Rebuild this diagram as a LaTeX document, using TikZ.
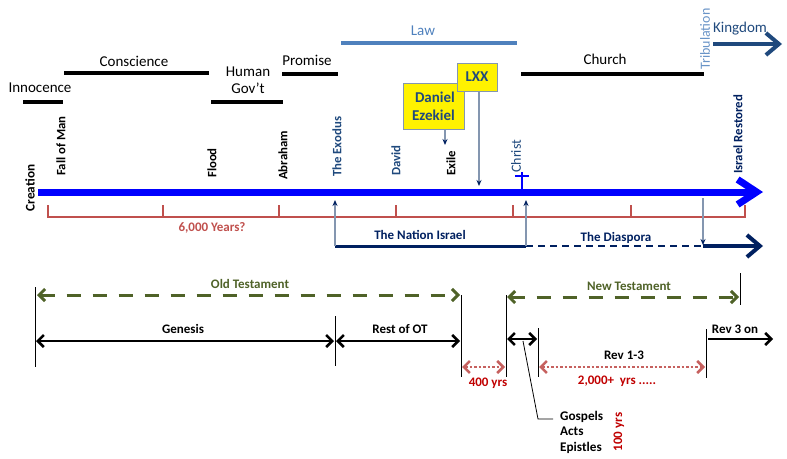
\documentclass[tikz,border=0pt]{standalone}
\usepackage{fontspec}
\setmainfont{Carlito}
\usetikzlibrary{arrows.meta}
\definecolor{mainblue}{HTML}{0000FF}
\definecolor{lawblue}{HTML}{4F81BD}
\definecolor{darkblue}{HTML}{1F497D}
\definecolor{navy}{HTML}{002060}
\definecolor{bracketred}{HTML}{C0504D}
\definecolor{darkred}{HTML}{C00000}
\definecolor{olive}{HTML}{4F6228}
\definecolor{greyblue}{HTML}{8496B0}
\begin{document}
\begin{tikzpicture}[x=1pt, y=-1pt,
  bar/.style={line width=4pt},
  lbl/.style={font=\fontsize{15}{17}\selectfont, inner sep=0pt},
  blbl/.style={font=\bfseries\fontsize{13}{15}\selectfont, inner sep=0pt},
  evt/.style={font=\bfseries\fontsize{12.8}{14}\selectfont, rotate=90, anchor=west, inner sep=0pt},
  note/.style={draw=greyblue, fill=yellow, text=darkblue, line width=1pt,
    font=\bfseries\fontsize{15}{18}\selectfont, inner sep=2pt},
  pointer/.style={draw=greyblue, line width=1.2pt, -{Stealth[length=6pt,width=5pt,color=navy]}},
  span/.style={line width=2.5pt, {Straight Barb[length=6pt,width=12pt]}-{Straight Barb[length=6pt,width=12pt]}},
  testament/.style={olive, line width=3pt, dash pattern=on 14pt off 12pt,
    {Straight Barb[length=6pt,width=12pt]}-{Straight Barb[length=6pt,width=12pt]}},
  gap/.style={bracketred!90!white, line width=2.5pt, dash pattern=on 2.5pt off 2pt,
    {Straight Barb[length=6pt,width=12pt]}-{Straight Barb[length=6pt,width=12pt]}},
  fence/.style={line width=0.8pt}]
\useasboundingbox (0,0) rectangle (787,458);

% dispensations
\draw[bar] (23,102) -- (63,102);
\node[lbl] (innocence) at (40,88) {Innocence};
\draw[bar] (64,73) -- (209,73);
\node[lbl] (conscience) at (134,61) {Conscience};
\draw[bar] (211,102) -- (283,102);
\node[lbl, align=center] (humangov) at (248,80) {Human\\Gov’t};
\draw[bar] (282,74) -- (338,74);
\node[lbl] (promise) at (307,60) {Promise};
\draw[bar, lawblue] (341,43) -- (517,43);
\node[lbl, lawblue] (law) at (423,31) {Law};
\draw[bar] (521,74) -- (704,74);
\node[lbl] (church) at (605,59) {Church};
\node[lbl, lawblue!85!white, rotate=90, font=\fontsize{14}{16}\selectfont] (tribulation) at (705,39) {Tribulation};
\node[lbl, darkblue] (kingdom) at (740,29) {Kingdom};
\draw[darkblue, line width=4pt, -{Straight Barb[length=13pt,width=22pt]}] (713,44) -- (782,44);

% main time line
\draw[mainblue, line width=7pt, -{Straight Barb[length=19pt,width=25pt]}] (38,192) -- (763,192);
\draw[mainblue, line width=2pt] (522,172) -- (522,192) (515,176) -- (529,176);

\node[evt, anchor=center, font=\bfseries\fontsize{13.2}{15}\selectfont] (creation) at (30,188) {Creation};
\node[evt] (fall) at (61,176) {Fall of Man};
\node[evt] (flood) at (212,178) {Flood};
\node[evt] (abraham) at (283,180) {Abraham};
\node[evt, darkblue] (exodus) at (337,177) {The Exodus};
\node[evt, darkblue] (david) at (396,176) {David};
\node[evt] (exile) at (451,176) {Exile};
\node[evt, darkblue, font=\fontsize{14}{16}\selectfont] (christ) at (516,173) {Christ};
\node[evt, navy] (restored) at (738,174) {Israel Restored};

% prophets
\node[note, minimum width=61pt, minimum height=46pt, align=right] (danbox) at (433.5,106) {Daniel\\Ezekiel};
\node[note, minimum width=40pt, minimum height=28pt] (lxx) at (477,77) {LXX};
\coordinate (exiletop) at (445,145);
\coordinate (lxxend) at (479,186);
\draw[pointer] (danbox.south -| exiletop) -- (exiletop);
\draw[pointer] (lxx.south -| lxxend) -- (lxxend);

% 6,000 years
\draw[bracketred, line width=2.5pt, line join=miter] (48,205) -- (48,217) -- (745,217) -- (745,205);
\foreach \tx in {163,279,396,513,631}
  \draw[bracketred, line width=2.5pt] (\tx,205) -- (\tx,217);
\node[blbl, bracketred] (years) at (212,228) {6,000 Years?};

% nation Israel
\coordinate (exodusfoot) at (335,200);
\coordinate (christfoot) at (526,200);
\coordinate (restoredfoot) at (703,198);
\draw[navy, line width=3pt] (335,246) -- (526,246);
\draw[navy, line width=1.2pt, dash pattern=on 7pt off 5pt] (526,246) -- (703,246);
\draw[navy, line width=4pt, -{Straight Barb[length=13pt,width=22pt]}] (703,246) -- (763,246);
\draw[pointer] (335,246) -- (exodusfoot);
\draw[pointer] (526,246) -- (christfoot);
\draw[pointer] (restoredfoot) -- (703,245);
\node[blbl, navy] (nation) at (420,235) {The Nation Israel};
\node[blbl, navy] (diaspora) at (616,238) {The Diaspora};

% testaments
\draw[fence] (35,287) -- (35,367);
\draw[fence] (335,316) -- (335,366);
\draw[fence] (461,295) -- (461,377);
\draw[fence] (506,295) -- (506,377);
\draw[fence] (538,328) -- (538,377);
\draw[fence] (706,329) -- (706,378);
\draw[fence] (740,273) -- (740,305);

\draw[testament] (37,295) -- (460,295);
\node[blbl, olive] (ot) at (250,284) {Old Testament};
\draw[testament] (507,297) -- (739,297);
\node[blbl, olive] (nt) at (629,286) {New Testament};

\draw[span] (36,341) -- (334,341);
\node[blbl] (genesis) at (183,329) {Genesis};
\draw[span] (336,341) -- (460,341);
\node[blbl] (restot) at (400,329) {Rest of OT};
\draw[span] (507,339) -- (537,339);
\draw[line width=2.5pt, -{Straight Barb[length=6pt,width=12pt]}] (708,339) -- (773,339);
\node[blbl] (rev3) at (735,329) {Rev 3 on};
\node[blbl] (rev13) at (624,355) {Rev 1-3};

\draw[gap] (462,367) -- (505,367);
\node[blbl, darkred] (gap400) at (488,383) {400 yrs};
\draw[gap] (539,367) -- (705,367);
\node[blbl, darkred] (gap2000) at (617,381) {2,000+~ yrs .....};

% gospels callout
\coordinate (gosmid) at (523,341);
\node[blbl, align=left, anchor=west, font=\bfseries\fontsize{13.2}{15.5}\selectfont] (gospels) at (560,432) {Gospels\\Acts\\Epistles};
\draw[fence] (gosmid) -- (538,419) -- (553,419);
\node[blbl, darkred, rotate=90] (hundred) at (619,432) {100 yrs};
\end{tikzpicture}
\end{document}
